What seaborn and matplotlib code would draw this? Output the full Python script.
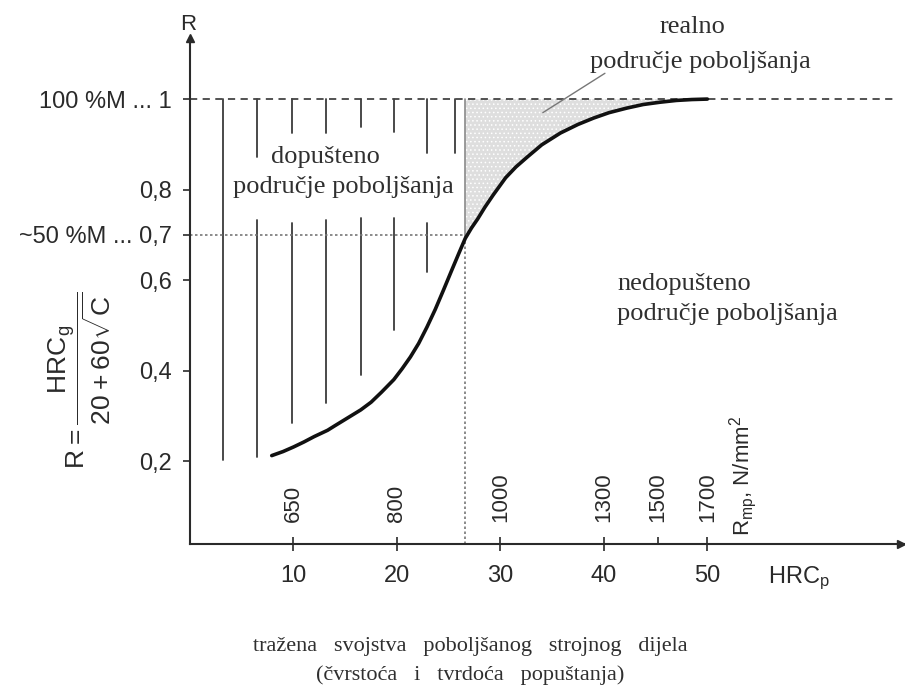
import numpy as np
import pandas as pd
import seaborn as sns
import matplotlib.pyplot as plt

# S-curve R over HRC_p
hrc_p = [7.9, 9.0, 10.0, 11.0, 12.0, 13.3, 14.0, 15.0, 16.5, 17.5, 18.5, 19.7, 20.5,
         21.3, 22.1, 22.9, 23.7, 24.5, 25.3, 26.0, 26.6, 27.2, 27.8, 28.5, 29.3, 30.5,
         31.5, 32.6, 34.0, 35.8, 37.5, 39.0, 40.5, 42.2, 43.8, 45.4, 47.0, 48.5, 50.0]
r_val = [0.212, 0.221, 0.231, 0.242, 0.254, 0.268, 0.278, 0.292, 0.313, 0.330, 0.352,
         0.380, 0.404, 0.430, 0.460, 0.496, 0.535, 0.578, 0.622, 0.660, 0.692, 0.715,
         0.735, 0.761, 0.788, 0.826, 0.850, 0.872, 0.899, 0.925, 0.944, 0.958, 0.970,
         0.980, 0.988, 0.993, 0.997, 0.999, 1.0]

# vertical hatch lines of the allowed area (upper part from R=1, lower part)
hatch_x = [3.2, 6.5, 9.9, 13.1, 16.5, 19.7, 22.9, 25.6]
hatch_top_end = [0.202, 0.872, 0.925, 0.925, 0.939, 0.928, 0.880, 0.880]
hatch_low_start = [None, 0.733, 0.726, 0.733, 0.737, 0.737, 0.726, None]
hatch_low_end = [None, 0.209, 0.284, 0.328, 0.390, 0.490, 0.618, None]

hrc_limit = 26.6  # ~50 %M point

y_ticks = [0.2, 0.4, 0.6, 0.7, 0.8, 1.0]
y_labels = ['0,2', '0,4', '0,6', '~50 %M ... 0,7', '0,8', '100 %M ... 1']
x_ticks = [10, 20, 30, 40, 50]
rm_pos = [10, 20, 30, 40, 45.2, 50]
rm_labels = ['650', '800', '1000', '1300', '1500', '1700']

df = pd.DataFrame({'hrc': hrc_p, 'R': r_val})

sns.set_style('white')
plt.rcParams['font.family'] = ['Liberation Sans', 'DejaVu Sans']
plt.rcParams['mathtext.fontset'] = 'custom'
plt.rcParams['mathtext.rm'] = 'Liberation Sans'
plt.rcParams['mathtext.default'] = 'rm'
plt.rcParams['hatch.color'] = '#9a9a9a'
plt.rcParams['hatch.linewidth'] = 0.6

ink = '#2a2a2a'
txt = '#2f2f2f'
serif = ['Liberation Serif', 'DejaVu Serif']

fig = plt.figure(figsize=(9.05, 6.88), dpi=100)
ax = fig.add_axes([190 / 905, 144 / 688, 715 / 905, 506 / 688])
ax.set_xlim(0, 69.1)
ax.set_ylim(0.0166, 1.135)

# shaded "real" area between curve and R=1
sub = df[df['hrc'] >= hrc_limit]
ax.fill_between(sub['hrc'], sub['R'], 1.0, facecolor='#dedede', edgecolor='none',
                hatch='....', linewidth=0)
ax.plot([hrc_limit, hrc_limit], [0.69, 1.0], color='#8a8a8a', lw=1.2)

# hatching of the allowed area
for x, t, ls, le in zip(hatch_x, hatch_top_end, hatch_low_start, hatch_low_end):
    ax.plot([x, x], [1.0, t], color='#3a3a3a', lw=1.3)
    if ls is not None:
        ax.plot([x, x], [ls, le], color='#3a3a3a', lw=1.3)

# reference lines
ax.plot([0, 68], [1.0, 1.0], color='#444444', lw=1.3, ls=(0, (4, 3)))
ax.plot([0, hrc_limit], [0.7, 0.7], color='#777777', lw=1.2, ls=(0, (1.5, 1.5)))
ax.plot([hrc_limit, hrc_limit], [0.0166, 0.7], color='#777777', lw=1.2, ls=(0, (1.5, 1.5)))

sns.lineplot(data=df, x='hrc', y='R', ax=ax, color='#111111', lw=2.6, sort=True)

# pointer to the real area
ax.plot([40.1, 34.1], [1.057, 0.97], color='#777777', lw=1.0, clip_on=False)

# axes styling
for s in ['top', 'right']:
    ax.spines[s].set_visible(False)
for s in ['left', 'bottom']:
    ax.spines[s].set_color(ink)
    ax.spines[s].set_linewidth(1.5)
ax.plot(0, 1, '^', color=ink, ms=6, transform=ax.transAxes, clip_on=False)
ax.plot(0.995, 0, '>', color=ink, ms=6, transform=ax.transAxes, clip_on=False)

ax.set_yticks(y_ticks)
ax.set_yticklabels(y_labels)
ax.set_xticks(x_ticks)
ax.set_xticklabels([str(v) for v in x_ticks])
ax.set_xticks([45.2], minor=True)
ax.tick_params(axis='y', direction='out', length=5, width=1.2, pad=8,
               labelsize=17, colors=ink, left=True)
ax.tick_params(axis='x', which='major', direction='inout', length=10, width=1.2,
               pad=10, labelsize=17, colors=ink, bottom=True)
ax.tick_params(axis='x', which='minor', direction='in', length=5, width=1.2,
               colors=ink, bottom=True)
ax.set_xlabel('')
ax.set_ylabel('')

# tensile strength scale above the x axis
for x, lab in zip(rm_pos, rm_labels):
    ax.text(x, 0.065, lab, rotation=90, ha='center', va='bottom', fontsize=16, color=ink)
ax.text(53.4, 0.035, r'R$_{mp}$, N/mm$^{2}$', rotation=90, ha='center', va='bottom',
        fontsize=16, color=ink)

# area labels
ax.text(13.1, 0.858, 'dopušteno', ha='center', va='baseline', fontsize=19,
        family=serif, color=txt)
ax.text(14.8, 0.792, 'područje poboljšanja', ha='center', va='baseline', fontsize=19,
        family=serif, color=txt)
ax.text(41.3, 0.578, 'nedopušteno', ha='left', va='baseline', fontsize=19,
        family=serif, color=txt)
ax.text(41.3, 0.512, 'područje poboljšanja', ha='left', va='baseline', fontsize=19,
        family=serif, color=txt)
ax.text(48.6, 1.146, 'realno', ha='center', va='baseline', fontsize=19,
        family=serif, color=txt)
ax.text(49.3, 1.068, 'područje poboljšanja', ha='center', va='baseline', fontsize=19,
        family=serif, color=txt)

# axis titles
fig.text(188 / 905, 1 - 25 / 688, 'R', ha='center', va='center', fontsize=16, color=ink)
fig.text(768 / 905, 1 - 578 / 688, r'HRC$_{p}$', ha='left', va='center', fontsize=17, color=ink)
fig.text(80 / 905, 1 - 380 / 688, r'$R = \dfrac{HRC_{g}}{20 + 60\sqrt{C}}$', rotation=90,
         ha='center', va='center', fontsize=19, color=ink)
fig.text(470 / 905, 1 - 647 / 688, 'tražena   svojstva   poboljšanog   strojnog   dijela',
         ha='center', va='center', fontsize=16, family=serif, color=txt)
fig.text(470 / 905, 1 - 675 / 688, '(čvrstoća   i   tvrdoća   popuštanja)',
         ha='center', va='center', fontsize=16, family=serif, color=txt)

fig.savefig('out.png', dpi=100)
